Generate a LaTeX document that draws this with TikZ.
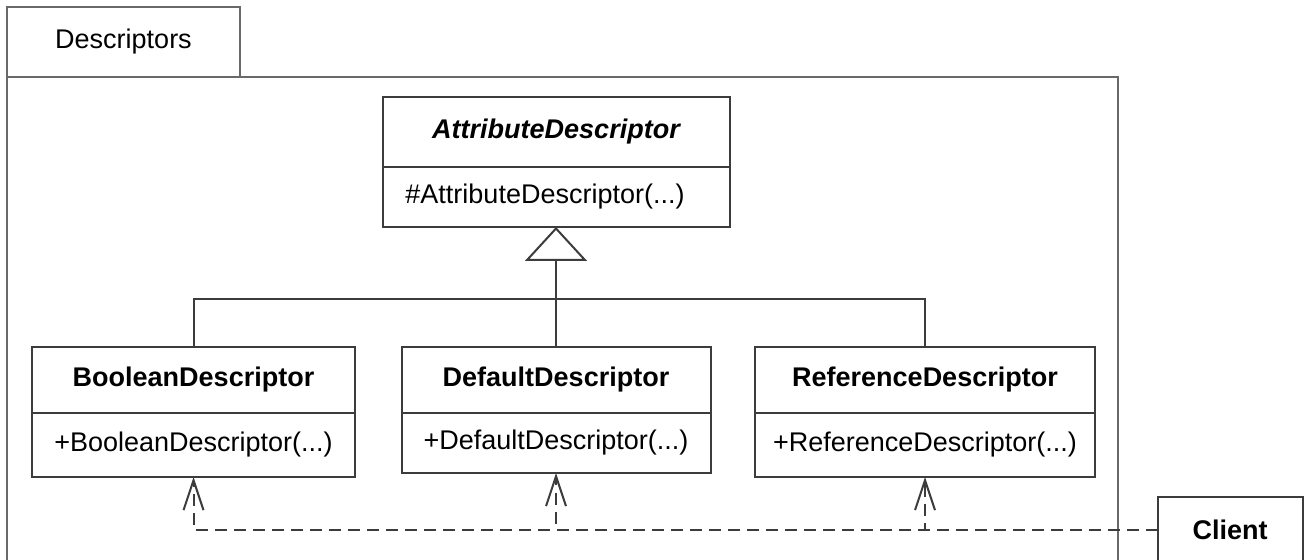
\documentclass[tikz,border=0pt]{standalone}
\usepackage{fontspec}
\setmainfont{Liberation Sans}
\usetikzlibrary{arrows.meta,positioning}
\definecolor{umlgray}{RGB}{60,60,60}
\definecolor{pkggray}{RGB}{105,105,105}

\begin{document}
\begin{tikzpicture}[x=0.5pt,y=-0.5pt,
    every node/.style={font=\fontsize{13.5}{16}\selectfont},
    classname/.style={draw=umlgray,line width=1pt,inner sep=0pt,outer sep=0pt,font=\fontsize{13.5}{16}\selectfont\bfseries},
    classop/.style={draw=umlgray,line width=1pt,inner sep=0pt,outer sep=0pt},
    gen/.style={draw=umlgray,line width=1pt,-{Triangle[open,length=17pt,width=31pt]}},
    dep/.style={draw=umlgray,line width=1pt,dash pattern=on 6pt off 3.5pt,-{Straight Barb[length=15pt,width=10pt]}}]
    \useasboundingbox (0,0) rectangle (1305,560);
    \clip (0,0) rectangle (1305,560);
    % package frame
    \draw[pkggray,line width=1.2pt] (7,77) rectangle (1118,640);
    \node[draw=pkggray,line width=1.2pt,inner sep=0pt,minimum width=116.5pt,minimum height=35pt] (tab) at (123.5,42) {Descriptors};
    % classes
    \node[classname,minimum width=173.5pt,minimum height=35pt,font=\fontsize{13.5}{16}\selectfont\bfseries\itshape] (attrn) at (556,132) {AttributeDescriptor};
    \node[classop,minimum width=173.5pt,minimum height=30pt,below=0pt of attrn] (attrm) {\hspace*{-11pt}\#AttributeDescriptor(...)};
    \node[classname,minimum width=161.5pt,minimum height=33pt] (booln) at (193.5,380) {BooleanDescriptor};
    \node[classop,minimum width=161.5pt,minimum height=32pt,below=0pt of booln] (boolm) {+BooleanDescriptor(...)};
    \node[classname,minimum width=154.5pt,minimum height=33pt] (defn) at (556,380) {DefaultDescriptor};
    \node[classop,minimum width=154.5pt,minimum height=30pt,below=0pt of defn] (defm) {+DefaultDescriptor(...)};
    \node[classname,minimum width=170pt,minimum height=33pt] (refn) at (925,380) {ReferenceDescriptor};
    \node[classop,minimum width=170pt,minimum height=32pt,below=0pt of refn] (refm) {+ReferenceDescriptor(...)};
    \node[classname,minimum width=72.5pt,minimum height=33pt] (client) at (1230,530) {Client};
    % generalization
    \coordinate (bar) at (556,299);
    \draw[gen] (defn.north) -- (attrm.south);
    \draw[umlgray,line width=1pt] (booln.north) |- (bar) -| (refn.north);
    % dependencies
    \foreach \c in {boolm,defm,refm} \draw[dep] (client.west) -| (\c.south);
\end{tikzpicture}
\end{document}
